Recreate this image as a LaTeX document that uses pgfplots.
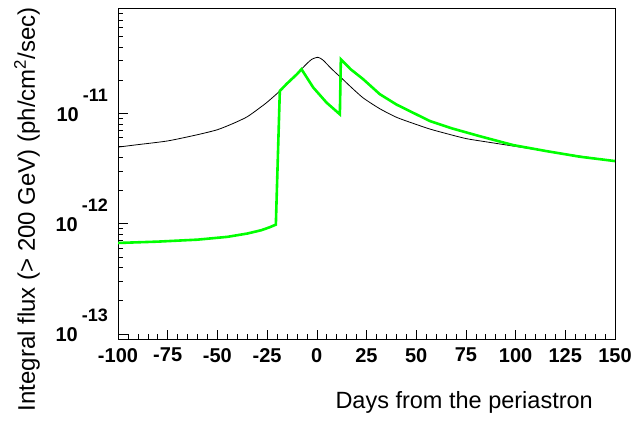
\documentclass[border=0pt]{standalone}
\usepackage{fontspec}
\setmainfont{Liberation Sans}
\usepackage{pgfplots}
\pgfplotsset{compat=1.18}

\definecolor{rootgreen}{RGB}{0,255,0}
\newcommand{\tl}{\fontsize{20}{22}\selectfont\bfseries}
\newcommand{\pw}[1]{10\kern4pt\raisebox{20pt}{\fontsize{18}{18}\selectfont\bfseries #1}}

\begin{document}
\begin{tikzpicture}
\useasboundingbox (-118pt,-87pt) rectangle (516pt,339pt);
\begin{axis}[
  scale only axis,
  width=497pt, height=331pt,
  ymode=log,
  xmin=-100, xmax=150,
  ymin=9e-14, ymax=9e-11,
  axis line style={line width=1pt},
  xtick={-100,-75,...,150},
  xticklabels={-100,-75,-50,-25,0,25,50,75,100,125,150},
  minor x tick num=4,
  ytick={1e-13,1e-12,1e-11},
  yticklabels={\pw{-13},\pw{-12},\pw{-11}},
  minor ytick={2e-13,3e-13,4e-13,5e-13,6e-13,7e-13,8e-13,9e-13,
               2e-12,3e-12,4e-12,5e-12,6e-12,7e-12,8e-12,9e-12,
               2e-11,3e-11,4e-11,5e-11,6e-11,7e-11,8e-11},
  xtick pos=bottom, ytick pos=left,
  tick align=inside,
  major tick length=9.5pt, minor tick length=5pt,
  tick style={black, line width=0.6pt},
  xticklabel style={font=\tl, anchor=north, inner sep=0pt, yshift=-9pt},
  yticklabel style={font=\tl, anchor=base east, inner sep=0pt, xshift=-10pt, yshift=-8pt},
  clip=true,
]
% model without the jumps (thin black)
\addplot[black, line width=0.8pt, smooth, tension=0.4] coordinates {
  (-100,4.94e-12) (-90,5.20e-12) (-75,5.62e-12) (-60,6.40e-12) (-50,7.10e-12)
  (-42,8.10e-12) (-35,9.30e-12) (-28.7,1.12e-11) (-25,1.26e-11) (-20,1.51e-11)
  (-15,1.84e-11) (-10,2.26e-11) (-7.7,2.51e-11) (-5,2.82e-11) (-2.5,3.09e-11)
  (0.5,3.22e-11) (3,3.05e-11) (6.5,2.63e-11) (9.5,2.33e-11) (12.4,2.09e-11)
  (16.6,1.77e-11) (23.3,1.38e-11) (31.7,1.10e-11) (40.1,9.20e-12)
  (48.5,8.10e-12) (56.9,7.20e-12) (65.2,6.55e-12) (75.3,5.89e-12)
  (87,5.45e-12) (98.8,5.05e-12) (115.6,4.54e-12) (132.4,4.09e-12) (150,3.69e-12)
};
% model with the jumps (thick green)
\addplot[rootgreen, line width=2.6pt, line join=miter] coordinates {
  (-100,6.68e-13) (-80,6.87e-13) (-60,7.16e-13) (-45,7.59e-13) (-35,8.13e-13)
  (-28,8.71e-13) (-24,9.23e-13) (-20.6,9.79e-13)
  (-18.6,1.596e-11) (-15,1.86e-11) (-10,2.26e-11) (-7.7,2.51e-11)
  (-1.8,1.714e-11) (4.9,1.25e-11) (11.6,9.79e-12)
  (12.1,3.09e-11) (17,2.51e-11) (23.3,2.04e-11) (31.7,1.49e-11) (40.1,1.20e-11)
  (48.5,1.01e-11) (56.9,8.51e-12) (68,7.30e-12) (82,6.20e-12) (98.8,5.15e-12)
  (115.6,4.54e-12) (132.4,4.04e-12) (150,3.69e-12)
};
\end{axis}
\node[rotate=90, anchor=north east, inner sep=0pt, font=\fontsize{24}{26}\selectfont]
  at (-104pt,332pt) {Integral flux (> 200 GeV) (ph/cm\textsuperscript{2}/sec)};
\node[anchor=base east, inner sep=0pt, font=\fontsize{23.5}{26}\selectfont]
  at (475pt,-69pt) {Days from the periastron};
\end{tikzpicture}
\end{document}
